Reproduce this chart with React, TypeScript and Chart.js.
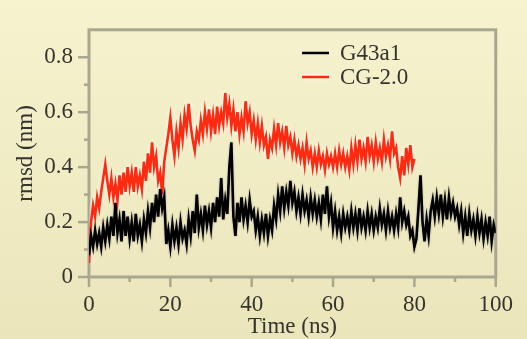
import React, { useEffect, useRef } from "react";
import { Chart, registerables } from "chart.js";

Chart.register(...registerables);

const TIME_STEP_NS = 0.5;

const G43A1_RMSD = [
  0.08, 0.15, 0.11, 0.17, 0.12, 0.16, 0.11, 0.18, 0.13,
  0.19, 0.14, 0.22, 0.15, 0.27, 0.16, 0.21, 0.13, 0.24, 0.15, 0.22, 0.14,
  0.20, 0.13, 0.23, 0.15, 0.19, 0.13, 0.21, 0.16, 0.24, 0.18,
  0.27, 0.20, 0.30, 0.22, 0.32, 0.25, 0.29, 0.12,
  0.17, 0.11, 0.19, 0.13, 0.18, 0.12, 0.20, 0.14, 0.17, 0.12, 0.21, 0.15,
  0.24, 0.16, 0.30, 0.18, 0.23, 0.17, 0.26, 0.19, 0.24, 0.18,
  0.27, 0.20, 0.29, 0.22, 0.36, 0.21, 0.28, 0.23, 0.40, 0.49,
  0.22, 0.15, 0.27, 0.20, 0.29, 0.21, 0.26, 0.20, 0.28, 0.22,
  0.24, 0.17, 0.22, 0.15, 0.21, 0.16, 0.23, 0.15, 0.21, 0.17,
  0.26, 0.21, 0.30, 0.24, 0.33, 0.25, 0.31, 0.26, 0.35, 0.27,
  0.31, 0.24, 0.29, 0.23, 0.30, 0.24, 0.28, 0.22, 0.29, 0.23,
  0.28, 0.22, 0.27, 0.21, 0.30, 0.23, 0.33, 0.22, 0.27, 0.18,
  0.24, 0.17, 0.22, 0.16, 0.23, 0.18, 0.22, 0.17, 0.24, 0.18,
  0.23, 0.17, 0.25, 0.18, 0.22, 0.17, 0.24, 0.18, 0.23, 0.17,
  0.22, 0.18, 0.25, 0.19, 0.23, 0.17, 0.24, 0.18, 0.22, 0.17,
  0.23, 0.18, 0.29, 0.20, 0.24, 0.19, 0.22, 0.15, 0.17, 0.11,
  0.14, 0.25, 0.37, 0.20, 0.13, 0.21, 0.15, 0.24, 0.28, 0.22,
  0.29, 0.23, 0.30, 0.22, 0.28, 0.21, 0.29, 0.23, 0.27, 0.22,
  0.25, 0.19, 0.24, 0.16, 0.22, 0.15, 0.23, 0.17, 0.21, 0.15,
  0.22, 0.16, 0.21, 0.14, 0.20, 0.15, 0.22, 0.13, 0.19, 0.16,
];

const CG20_RMSD = [
  0.05, 0.20, 0.26, 0.22, 0.29, 0.25, 0.31, 0.36, 0.41,
  0.35, 0.30, 0.36, 0.29, 0.34, 0.28, 0.37, 0.30, 0.38, 0.31, 0.40, 0.33,
  0.38, 0.31, 0.40, 0.33, 0.37, 0.32, 0.42, 0.35, 0.45, 0.38,
  0.49, 0.40, 0.44, 0.35, 0.38, 0.30, 0.42, 0.47, 0.52, 0.58,
  0.50, 0.44, 0.53, 0.47, 0.56, 0.50, 0.59, 0.54, 0.63, 0.55,
  0.50, 0.46, 0.53, 0.50, 0.57, 0.52, 0.60, 0.54, 0.61, 0.53,
  0.59, 0.52, 0.62, 0.55, 0.60, 0.56, 0.67, 0.58, 0.63, 0.55,
  0.61, 0.53, 0.60, 0.52, 0.58, 0.53, 0.64, 0.56, 0.60, 0.52,
  0.57, 0.50, 0.56, 0.49, 0.55, 0.48, 0.51, 0.43, 0.50, 0.47,
  0.54, 0.48, 0.56, 0.49, 0.53, 0.47, 0.55, 0.48, 0.51, 0.45,
  0.50, 0.44, 0.48, 0.43, 0.47, 0.41, 0.49, 0.43, 0.46, 0.40,
  0.45, 0.40, 0.46, 0.41, 0.44, 0.39, 0.45, 0.41, 0.44, 0.40,
  0.45, 0.40, 0.46, 0.41, 0.45, 0.40, 0.44, 0.39, 0.47, 0.41,
  0.48, 0.42, 0.50, 0.43, 0.47, 0.42, 0.51, 0.44, 0.48, 0.42,
  0.49, 0.43, 0.47, 0.42, 0.50, 0.44, 0.48, 0.43, 0.53, 0.45,
  0.47, 0.40, 0.36, 0.44, 0.37, 0.47, 0.41, 0.48, 0.40, 0.43,
];

const SERIES_LABELS = ["G43a1", "CG-2.0"];
const X_TICKS = [0, 20, 40, 60, 80, 100];
const X_MINOR_TICKS = [10, 30, 50, 70, 90];
const Y_TICKS = [0, 0.2, 0.4, 0.6, 0.8];
const Y_MINOR_TICKS = [0.1, 0.3, 0.5, 0.7];
const X_TITLE = "Time (ns)";
const Y_TITLE = "rmsd (nm)";

const FONT = "'Liberation Serif', 'Times New Roman', serif";
const FRAME = "#a8a790";
const TEXT = "#34342f";

const toPoints = (arr: number[]) => arr.map((v, i) => ({ x: i * TIME_STEP_NS, y: v }));

const framePlugin = {
  id: "frameTicks",
  beforeDatasetsDraw(chart: any) {
    const { ctx, chartArea, scales } = chart;
    const { left, right, top, bottom } = chartArea;
    ctx.save();
    ctx.strokeStyle = FRAME;
    ctx.lineWidth = 3;
    ctx.strokeRect(left, top, right - left, bottom - top);
    ctx.lineWidth = 2.5;
    const y = scales.y;
    const x = scales.x;
    const drawY = (vals: number[], len: number) => {
      vals.forEach((v) => {
        const p = y.getPixelForValue(v);
        ctx.beginPath();
        ctx.moveTo(left - len, p);
        ctx.lineTo(left, p);
        ctx.stroke();
      });
    };
    const drawX = (vals: number[], len: number) => {
      vals.forEach((v) => {
        const p = x.getPixelForValue(v);
        ctx.beginPath();
        ctx.moveTo(p, bottom);
        ctx.lineTo(p, bottom + len);
        ctx.stroke();
      });
    };
    drawY(Y_TICKS, 11);
    drawY(Y_MINOR_TICKS, 5);
    drawX(X_TICKS, 10);
    drawX(X_MINOR_TICKS, 5);
    ctx.restore();
  },
  beforeDatasetDraw(chart: any, args: any) {
    const ctx = chart.ctx;
    ctx.save();
    if (args.index === 1) {
      ctx.shadowColor = "rgba(255,255,255,0.95)";
      ctx.shadowBlur = 4;
    } else {
      ctx.shadowColor = "rgba(60,60,60,0.4)";
      ctx.shadowBlur = 2;
    }
  },
  afterDatasetDraw(chart: any) {
    chart.ctx.restore();
  },
  afterDraw(chart: any) {
    const { ctx } = chart;
    const lx = 302;
    const ly = [53, 77];
    ctx.save();
    ctx.font = `23px ${FONT}`;
    ctx.textBaseline = "middle";
    ctx.textAlign = "left";
    chart.data.datasets.forEach((ds: any, i: number) => {
      ctx.strokeStyle = ds.borderColor;
      ctx.lineWidth = 2.5;
      if (i === 1) {
        ctx.shadowColor = "rgba(255,255,255,0.95)";
        ctx.shadowBlur = 4;
      }
      ctx.beginPath();
      ctx.moveTo(lx, ly[i]);
      ctx.lineTo(lx + 27, ly[i]);
      ctx.stroke();
      ctx.shadowBlur = 0;
      ctx.fillStyle = TEXT;
      ctx.fillText(ds.label, lx + 38, ly[i] + 1);
    });
    ctx.restore();
  },
};

export default function App() {
  const ref = useRef<HTMLCanvasElement | null>(null);
  useEffect(() => {
    if (!ref.current) return;
    const chart = new Chart(ref.current, {
      type: "line",
      data: {
        datasets: [
          {
            label: SERIES_LABELS[0],
            data: toPoints(G43A1_RMSD),
            borderColor: "#000000",
            borderWidth: 2.6,
            pointRadius: 0,
            tension: 0,
          },
          {
            label: SERIES_LABELS[1],
            data: toPoints(CG20_RMSD),
            borderColor: "#ff2a10",
            borderWidth: 2.6,
            pointRadius: 0,
            tension: 0,
          },
        ],
      },
      plugins: [framePlugin],
      options: {
        animation: false,
        responsive: false,
        maintainAspectRatio: false,
        layout: { padding: { top: 10, right: 22, left: 0, bottom: 0 } },
        plugins: { legend: { display: false }, tooltip: { enabled: false } },
        scales: {
          x: {
            type: "linear",
            min: 0,
            max: 100,
            grid: { display: false, drawTicks: false },
            border: { display: false },
            afterBuildTicks: (s: any) => {
              s.ticks = X_TICKS.map((v) => ({ value: v }));
            },
            afterFit: (s: any) => {
              s.height = 62;
            },
            ticks: {
              padding: 14,
              color: TEXT,
              font: { family: FONT, size: 23 },
              maxRotation: 0,
              autoSkip: false,
            },
            title: {
              display: true,
              text: X_TITLE,
              color: TEXT,
              font: { family: FONT, size: 23, lineHeight: 1 },
              padding: { top: 0, bottom: 1 },
            },
          },
          y: {
            type: "linear",
            min: 0,
            max: 0.9,
            grid: { display: false, drawTicks: false },
            border: { display: false },
            afterBuildTicks: (s: any) => {
              s.ticks = Y_TICKS.map((v) => ({ value: v }));
            },
            afterFit: (s: any) => {
              s.width = 89;
            },
            ticks: {
              padding: 16,
              color: TEXT,
              font: { family: FONT, size: 23 },
              autoSkip: false,
            },
            title: {
              display: true,
              text: Y_TITLE,
              color: TEXT,
              font: { family: FONT, size: 23, lineHeight: 1 },
              padding: { top: 14, bottom: 0 },
            },
          },
        },
      },
    });
    return () => chart.destroy();
  }, []);
  return (
    <div
      style={{
        position: "fixed",
        left: 0,
        top: 0,
        width: 527,
        height: 339,
        background: "linear-gradient(180deg, #f6f3cf 0%, #f0ecc4 50%, #ebe5bb 100%)",
      }}
    >
      <canvas ref={ref} width={527} height={339} style={{ display: "block" }} />
    </div>
  );
}
